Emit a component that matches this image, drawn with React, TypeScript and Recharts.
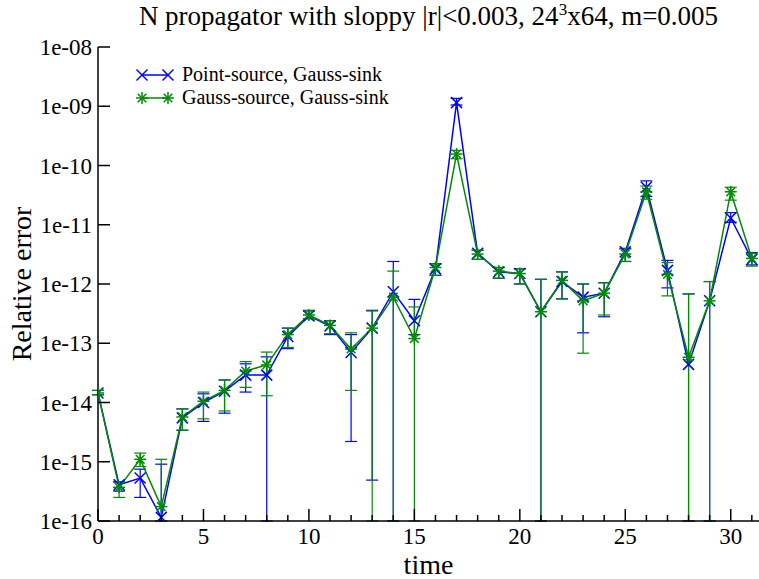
import React from 'react';
import { LineChart, Line, XAxis, YAxis, ErrorBar, Legend } from 'recharts';

// ---------- data ----------
const times = [0, 1, 2, 3, 4, 5, 6, 7, 8, 9, 10, 11, 12, 13, 14, 15, 16, 17, 18, 19, 20, 21, 22, 23, 24, 25, 26, 27, 28, 29, 30, 31];

const Y_MIN = 1e-16;
const Y_MAX = 1e-8;
const X_MAX = 31.34;

// Point-source, Gauss-sink (blue)
const pointGauss = [
  1.45e-14, 4.1e-16, 5.3e-16, 1.15e-16, 5.5e-15, 1.0e-14, 1.55e-14, 2.9e-14,
  2.9e-14, 1.3e-13, 2.9e-13, 1.95e-13, 7.0e-14, 1.8e-13, 7.4e-13, 2.4e-13,
  1.8e-12, 1.15e-9, 3.3e-12, 1.6e-12, 1.5e-12, 3.4e-13, 1.1e-12, 6.0e-13,
  7.0e-13, 3.5e-12, 4.3e-11, 1.7e-12, 4.4e-14, 5.2e-13, 1.3e-11, 2.6e-12,
];
const pointGaussLow = [
  1.35e-14, 3.2e-16, 2.5e-16, Y_MIN, 3.4e-15, 4.8e-15, 6.6e-15, 1.5e-14,
  Y_MIN, 8.1e-14, 2.6e-13, 1.4e-13, 2.2e-15, 4.9e-16, Y_MIN, 1.4e-13,
  1.4e-12, 1.05e-9, 2.6e-12, 1.25e-12, 1.0e-12, Y_MIN, 5.6e-13, 1.5e-13,
  2.8e-13, 2.4e-12, 3.0e-11, 8.6e-13, Y_MIN, Y_MIN, 1.1e-11, 2.1e-12,
];
const pointGaussHigh = [
  1.6e-14, 4.6e-16, 7.5e-16, 9.1e-16, 7.8e-15, 1.4e-14, 2.4e-14, 4.5e-14,
  5.9e-14, 1.8e-13, 3.5e-13, 2.4e-13, 1.4e-13, 3.6e-13, 2.4e-12, 5.5e-13,
  2.2e-12, 1.36e-9, 3.7e-12, 1.9e-12, 1.8e-12, 1.2e-12, 1.6e-12, 1.0e-12,
  1.05e-12, 4.0e-12, 5.5e-11, 2.5e-12, 6.8e-13, 1.1e-12, 1.6e-11, 3.4e-12,
];

// Gauss-source, Gauss-sink (green)
const gaussGauss = [
  1.45e-14, 3.7e-16, 1.1e-15, 1.75e-16, 5.7e-15, 1.05e-14, 1.6e-14, 3.4e-14,
  4.3e-14, 1.4e-13, 3.0e-13, 2.0e-13, 8.0e-14, 1.8e-13, 6.0e-13, 1.2e-13,
  1.9e-12, 1.56e-10, 3.2e-12, 1.65e-12, 1.5e-12, 3.4e-13, 1.15e-12, 5.2e-13,
  7.0e-13, 3.2e-12, 3.6e-11, 1.45e-12, 5.8e-14, 5.2e-13, 3.6e-11, 2.7e-12,
];
const gaussGaussLow = [
  1.35e-14, 2.5e-16, 8.3e-16, Y_MIN, 3.4e-15, 5.3e-15, 7.2e-15, 1.8e-14,
  1.3e-14, 8.5e-14, 2.6e-13, 1.45e-13, 1.6e-14, Y_MIN, Y_MIN, Y_MIN,
  1.4e-12, 1.3e-10, 2.6e-12, 1.25e-12, 1.0e-12, Y_MIN, 5.6e-13, 6.8e-14,
  3.0e-13, 2.4e-12, 2.7e-11, 6.3e-13, Y_MIN, Y_MIN, 2.6e-11, 2.0e-12,
];
const gaussGaussHigh = [
  1.6e-14, 4.5e-16, 1.4e-15, 1.1e-15, 7.8e-15, 1.5e-14, 2.4e-14, 4.9e-14,
  7.1e-14, 1.8e-13, 3.6e-13, 2.4e-13, 1.5e-13, 3.5e-13, 1.65e-12, 4.1e-13,
  2.2e-12, 1.8e-10, 3.7e-12, 1.9e-12, 1.8e-12, 1.2e-12, 1.6e-12, 1.0e-12,
  1.05e-12, 3.9e-12, 4.5e-11, 2.3e-12, 6.8e-13, 1.1e-12, 4.3e-11, 3.3e-12,
];

const seriesNames = ['Point-source, Gauss-sink', 'Gauss-source, Gauss-sink'];
const yTicks = [1e-16, 1e-15, 1e-14, 1e-13, 1e-12, 1e-11, 1e-10, 1e-9, 1e-8];
const yTickLabels = ['1e-16', '1e-15', '1e-14', '1e-13', '1e-12', '1e-11', '1e-10', '1e-09', '1e-08'];
const xMajorTicks = [0, 5, 10, 15, 20, 25, 30];

const BLUE = '#0000ff';
const GREEN = '#008b00';
const FONT = '"Liberation Serif", "Times New Roman", serif';

const data = times.map((t, i) => ({
  t,
  p: pointGauss[i],
  pErr: [pointGauss[i] - pointGaussLow[i], pointGaussHigh[i] - pointGauss[i]],
  g: gaussGauss[i],
  gErr: [gaussGauss[i] - gaussGaussLow[i], gaussGaussHigh[i] - gaussGauss[i]],
}));

// ---------- markers ----------
const XMark = ({ cx, cy, color, s = 5.5 }: any) => (
  <g stroke={color} strokeWidth={1.5}>
    <line x1={cx - s} y1={cy - s} x2={cx + s} y2={cy + s} />
    <line x1={cx - s} y1={cy + s} x2={cx + s} y2={cy - s} />
  </g>
);
const StarMark = ({ cx, cy, color, s = 6 }: any) => (
  <g stroke={color} strokeWidth={1.5}>
    <line x1={cx - s} y1={cy} x2={cx + s} y2={cy} />
    <line x1={cx} y1={cy - s} x2={cx} y2={cy + s} />
    <line x1={cx - s * 0.72} y1={cy - s * 0.72} x2={cx + s * 0.72} y2={cy + s * 0.72} />
    <line x1={cx - s * 0.72} y1={cy + s * 0.72} x2={cx + s * 0.72} y2={cy - s * 0.72} />
  </g>
);

const renderBlueDot = (props: any) => {
  const { cx, cy, index } = props;
  if (cx == null || cy == null || isNaN(cy)) return <g key={`b${index}`} />;
  return <XMark key={`b${index}`} cx={cx} cy={cy} color={BLUE} />;
};
const renderGreenDot = (props: any) => {
  const { cx, cy, index } = props;
  if (cx == null || cy == null || isNaN(cy)) return <g key={`g${index}`} />;
  return <StarMark key={`g${index}`} cx={cx} cy={cy} color={GREEN} />;
};

// ---------- ticks ----------
const XTickBottom = (props: any) => {
  const { x, y, payload } = props;
  const major = xMajorTicks.includes(payload.value);
  return (
    <g>
      <line x1={x} y1={y} x2={x} y2={y - (major ? 12 : 6)} stroke="#000" strokeWidth={1.5} />
      {major && (
        <text x={x} y={y + 23} textAnchor="middle" fontFamily={FONT} fontSize={23} fill="#000">
          {payload.value}
        </text>
      )}
    </g>
  );
};
const XTickTop = (props: any) => {
  const { x, y, payload } = props;
  const major = xMajorTicks.includes(payload.value);
  return <line x1={x} y1={y} x2={x} y2={y + (major ? 12 : 6)} stroke="#000" strokeWidth={1.5} />;
};
const labelFor = (v: number) => {
  const idx = yTicks.findIndex((t) => Math.abs(Math.log10(t) - Math.log10(v)) < 1e-6);
  return idx >= 0 ? yTickLabels[idx] : '';
};
const YTickLeft = (props: any) => {
  const { x, y, payload } = props;
  return (
    <g>
      <line x1={x} y1={y} x2={x + 12} y2={y} stroke="#000" strokeWidth={1.5} />
      <text x={x - 6} y={y + 8} textAnchor="end" fontFamily={FONT} fontSize={23} fill="#000">
        {labelFor(payload.value)}
      </text>
    </g>
  );
};
const YTickRight = (props: any) => {
  const { x, y } = props;
  return <line x1={x} y1={y} x2={x - 11} y2={y} stroke="#000" strokeWidth={1.5} />;
};

// ---------- legend ----------
const LegendContent = (props: any) => {
  const payload = [...(props.payload || [])].sort(
    (a: any, b: any) => (a.dataKey === 'p' ? 0 : 1) - (b.dataKey === 'p' ? 0 : 1)
  );
  return (
    <div style={{ fontFamily: FONT, fontSize: 20, color: '#000' }}>
      {payload.map((entry: any, i: number) => {
        const isBlue = entry.dataKey === 'p';
        const color = isBlue ? BLUE : GREEN;
        return (
          <div key={i} style={{ display: 'flex', alignItems: 'center', height: 23, whiteSpace: 'nowrap' }}>
            <svg width={40} height={16} style={{ display: 'block' }}>
              <line x1={6} y1={8} x2={32} y2={8} stroke={color} strokeWidth={1.5} />
              {isBlue ? <XMark cx={6} cy={8} color={color} /> : <StarMark cx={6} cy={8} color={color} />}
              {isBlue ? <XMark cx={32} cy={8} color={color} /> : <StarMark cx={32} cy={8} color={color} />}
            </svg>
            <span style={{ marginLeft: 6, lineHeight: '23px' }}>{entry.value}</span>
          </div>
        );
      })}
    </div>
  );
};

export default function App() {
  return (
    <div style={{ position: 'relative', width: 759, height: 579, background: '#fff', overflow: 'hidden' }}>
      <style>{`body{margin:0;}`}</style>
      <div
        style={{
          position: 'absolute',
          left: 98,
          width: 661,
          top: 1,
          textAlign: 'center',
          fontFamily: FONT,
          fontSize: 27,
          lineHeight: '30px',
          color: '#000',
          whiteSpace: 'nowrap',
        }}
      >
        N propagator with sloppy |r|&lt;0.003, 24<sup style={{ fontSize: 17, verticalAlign: 'top', lineHeight: '17px' }}>3</sup>x64, m=0.005
      </div>
      <LineChart width={759} height={579} data={data} margin={{ top: 47, right: 0, bottom: 0, left: 0 }}>
        <XAxis
          dataKey="t"
          type="number"
          domain={[0, X_MAX]}
          allowDataOverflow
          ticks={times}
          interval={0}
          height={58}
          tickSize={0}
          tickMargin={0}
          tickLine={false}
          tick={<XTickBottom />}
          axisLine={{ stroke: '#000', strokeWidth: 1.5 }}
          label={{ value: 'time', position: 'insideBottom', offset: 5, style: { fontFamily: FONT, fontSize: 28, fill: '#000' } }}
        />
        <XAxis
          xAxisId="top"
          dataKey="t"
          type="number"
          orientation="top"
          domain={[0, X_MAX]}
          allowDataOverflow
          ticks={times}
          interval={0}
          height={0}
          tickSize={0}
          tickMargin={0}
          tickLine={false}
          tick={<XTickTop />}
          axisLine={{ stroke: '#000', strokeWidth: 1.5 }}
        />
        <YAxis
          type="number"
          scale="log"
          domain={[Y_MIN, Y_MAX]}
          allowDataOverflow
          ticks={yTicks}
          interval={0}
          width={98}
          tickSize={0}
          tickMargin={0}
          tickLine={false}
          tick={<YTickLeft />}
          axisLine={{ stroke: '#000', strokeWidth: 1.5 }}
          label={{
            value: 'Relative error',
            angle: -90,
            position: 'insideLeft',
            offset: 21,
            style: { fontFamily: FONT, fontSize: 28, fill: '#000', textAnchor: 'middle' },
          }}
        />
        <YAxis
          yAxisId="right"
          orientation="right"
          type="number"
          scale="log"
          domain={[Y_MIN, Y_MAX]}
          allowDataOverflow
          ticks={yTicks}
          interval={0}
          width={0}
          tickSize={0}
          tickMargin={0}
          tickLine={false}
          axisLine={false}
          tick={<YTickRight />}
        />
        <Legend
          layout="horizontal"
          verticalAlign="middle"
          align="center"
          content={<LegendContent />}
          wrapperStyle={{ top: 63, left: 136, width: 'auto', height: 'auto' }}
        />
        <Line
          name={seriesNames[0]}
          dataKey="p"
          stroke={BLUE}
          strokeWidth={1.5}
          dot={renderBlueDot}
          activeDot={false}
          isAnimationActive={false}
        >
          <ErrorBar dataKey="pErr" direction="y" width={6} stroke={BLUE} strokeWidth={1.2} isAnimationActive={false} />
        </Line>
        <Line
          name={seriesNames[1]}
          dataKey="g"
          stroke={GREEN}
          strokeWidth={1.5}
          dot={renderGreenDot}
          activeDot={false}
          isAnimationActive={false}
        >
          <ErrorBar dataKey="gErr" direction="y" width={6} stroke={GREEN} strokeWidth={1.2} isAnimationActive={false} />
        </Line>
      </LineChart>
    </div>
  );
}
